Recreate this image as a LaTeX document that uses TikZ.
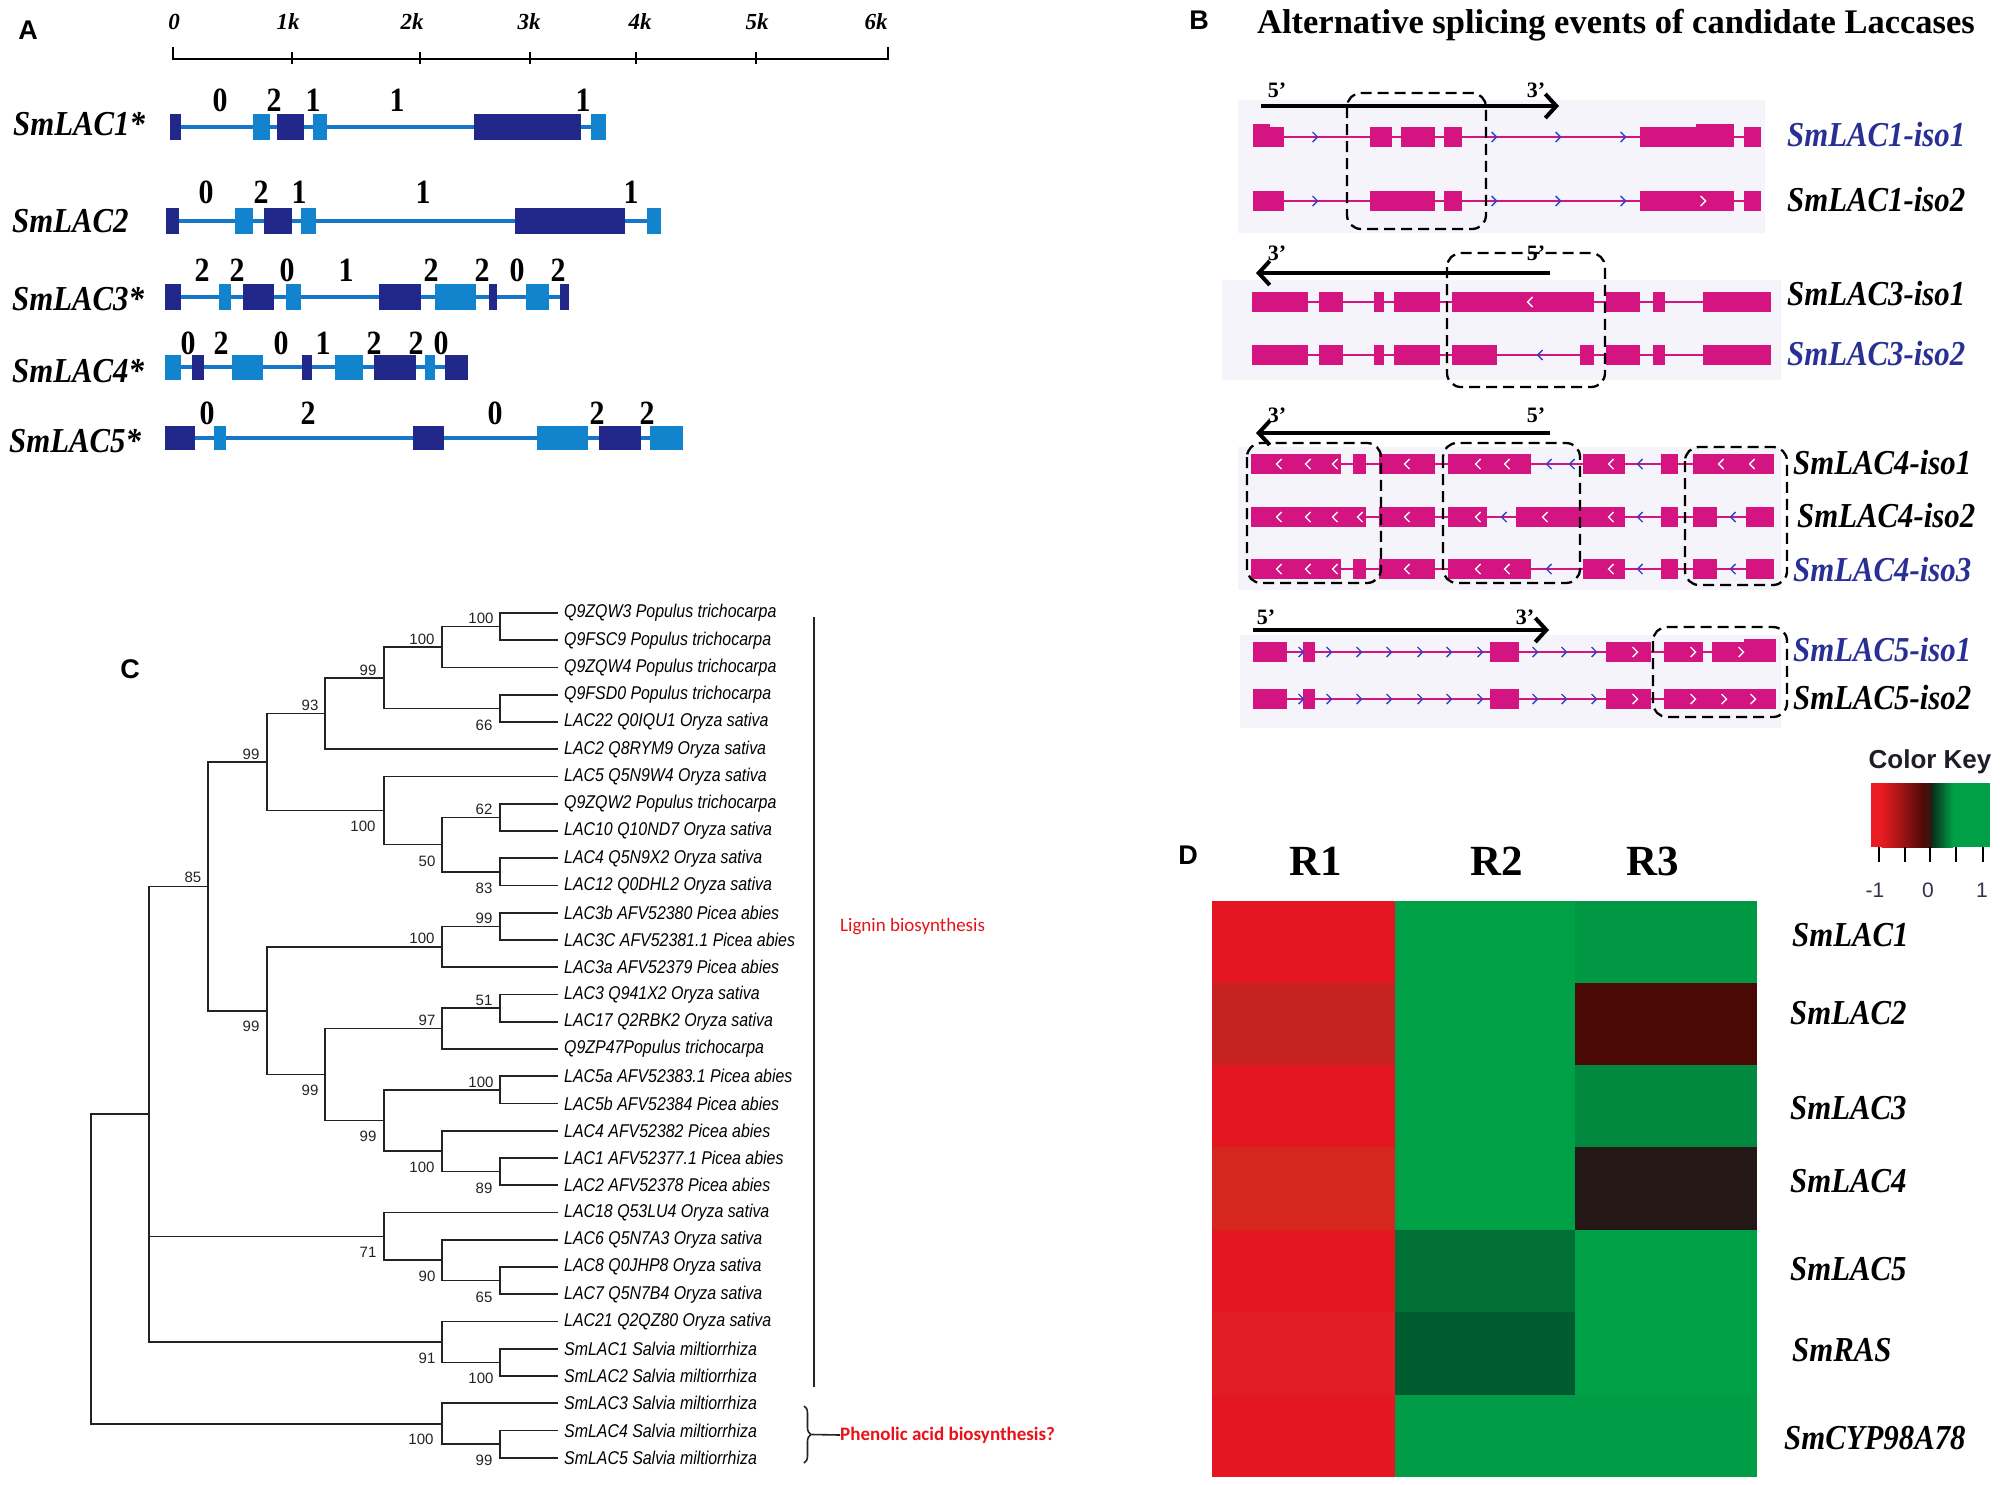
\documentclass[tikz,border=0pt]{standalone}
\usepackage{fontspec}
\setmainfont{Liberation Serif}
\newfontfamily\tnr{Liberation Serif}
\newfontfamily\tnrc[FakeStretch=0.88]{Liberation Serif}
\newfontfamily\arl{Liberation Sans}
\newfontfamily\arln[FakeStretch=0.86]{Liberation Sans}
\newfontfamily\carl{Carlito}
\usetikzlibrary{arrows.meta,decorations.pathreplacing}
\newcommand{\fs}[1]{\fontsize{#1}{#1}\selectfont}
\newcommand{\chr}[3]{\draw[#3,line width=1.4pt] ({#1-2.5},{#2-5}) -- ({#1+2.5},#2) -- ({#1-2.5},{#2+5});}
\newcommand{\chl}[3]{\draw[#3,line width=1.4pt] ({#1+2.5},{#2-5}) -- ({#1-2.5},#2) -- ({#1+2.5},{#2+5});}
\newcommand{\clade}[3]{\draw[tree] (#2) -| (#1) |- (#3);}
\newcommand{\cell}[7]{\definecolor{cc}{RGB}{#5,#6,#7}\fill[cc] (#1,#3) rectangle (#2,#4);}
\definecolor{dkb}{RGB}{33,40,138}
\definecolor{ltb}{RGB}{18,132,206}
\definecolor{lnb}{RGB}{22,118,200}
\definecolor{mag}{RGB}{212,20,128}
\definecolor{bgB}{RGB}{244,244,250}
\definecolor{navy}{RGB}{40,48,150}
\definecolor{chev}{RGB}{40,70,200}
\definecolor{redlab}{RGB}{232,18,24}
\definecolor{treec}{RGB}{35,35,35}
\definecolor{kred}{RGB}{232,28,34}
\definecolor{kmar}{RGB}{85,10,8}
\definecolor{kblk}{RGB}{38,26,22}
\definecolor{kdg}{RGB}{10,50,25}
\definecolor{kgrn}{RGB}{0,160,70}
\definecolor{cktxt}{RGB}{30,30,40}
\definecolor{cknum}{RGB}{50,50,80}
\tikzset{
  plabel/.style={font=\arl\bfseries\fs{27}, inner sep=0pt},
  ticklab/.style={font=\tnr\bfseries\itshape\fs{23}, inner sep=0pt},
  genelab/.style={font=\tnrc\bfseries\itshape\fs{35}, inner sep=0pt, anchor=west},
  phase/.style={font=\tnrc\bfseries\fs{34}, inner sep=0pt},
  intr/.style={lnb, line width=3.5pt},
  bintr/.style={mag, line width=2pt},
  isolab/.style={font=\tnrc\bfseries\itshape\fs{35}, inner sep=0pt, anchor=west},
  primelab/.style={font=\tnr\bfseries\fs{22}, inner sep=0pt},
  sarr/.style={line width=4pt, -{Straight Barb[length=11pt,width=24pt]}},
  dbox/.style={draw=black, line width=2.3pt, dash pattern=on 11pt off 6pt, rounded corners=14pt},
  tree/.style={treec, line width=1.6pt},
  leaf/.style={font=\arln\itshape\fs{18.5}, inner sep=0pt, anchor=west},
  boot/.style={font=\arl\fs{15}, inner sep=0pt, text=treec},
  hlab/.style={font=\tnrc\bfseries\itshape\fs{35}, inner sep=0pt, anchor=west},
  collab/.style={font=\tnr\bfseries\fs{43}, inner sep=0pt}
}
\begin{document}
\begin{tikzpicture}[x=1pt,y=-1pt]
\useasboundingbox (0,0) rectangle (2000,1484);
\fill[white] (0,0) rectangle (2000,1484);

%================ Panel A =================
\node[plabel] (labA) at (28,30) {A};
\draw[line width=2.2pt] (173,47) -- (173,59) -- (888,59) -- (888,47);
\foreach \x in {292,420,530,636,756} \draw[line width=2pt] (\x,52) -- (\x,64);
\foreach \x/\t [count=\i] in {174/0,288/1k,412/2k,529/3k,640/4k,757/5k,876/6k}
  \node[ticklab] (tk\i) at (\x,22) {\t};

\node[genelab] (gA1) at (13,124) {SmLAC1*};
\node[genelab] (gA2) at (12,221) {SmLAC2};
\node[genelab] (gA3) at (12,299) {SmLAC3*};
\node[genelab] (gA4) at (12,371) {SmLAC4*};
\node[genelab] (gA5) at (9,441) {SmLAC5*};

% row 1
\draw[intr] (170,127) -- (606,127);
\foreach \a/\b/\c in {170/181/dkb,253/270/ltb,277/304/dkb,313/327/ltb,474/581/dkb,591/606/ltb}
  \fill[\c] (\a,114) rectangle (\b,140);
\foreach \x/\t [count=\i] in {220/0,274/2,313/1,397/1,583/1}
  \node[phase] (p1n\i) at (\x,100) {\t};
% row 2
\draw[intr] (166,221) -- (661,221);
\foreach \a/\b/\c in {166/179/dkb,235/253/ltb,264/292/dkb,301/316/ltb,515/625/dkb,647/661/ltb}
  \fill[\c] (\a,208) rectangle (\b,234);
\foreach \x/\t [count=\i] in {206/0,261/2,299/1,423/1,631/1}
  \node[phase] (p2n\i) at (\x,192) {\t};
% row 3
\draw[intr] (165,297) -- (569,297);
\foreach \a/\b/\c in {165/181/dkb,219/231/ltb,243/274/dkb,286/301/ltb,379/421/dkb,435/476/ltb,489/497/dkb,526/549/ltb,560/569/dkb}
  \fill[\c] (\a,284) rectangle (\b,310);
\foreach \x/\t [count=\i] in {202/2,237/2,287/0,346/1,431/2,482/2,517/0,558/2}
  \node[phase] (p3n\i) at (\x,270) {\t};
% row 4
\draw[intr] (165,367) -- (468,367);
\foreach \a/\b/\c in {165/181/ltb,192/204/dkb,232/263/ltb,302/312/dkb,335/363/ltb,374/416/dkb,425/435/ltb,445/468/dkb}
  \fill[\c] (\a,355) rectangle (\b,380);
\foreach \x/\t [count=\i] in {188/0,221/2,281/0,323/1,374/2,416/2,441/0}
  \node[phase] (p4n\i) at (\x,343) {\t};
% row 5
\draw[intr] (165,438) -- (683,438);
\foreach \a/\b/\c in {165/195/dkb,214/226/ltb,413/444/dkb,537/588/ltb,599/641/dkb,650/683/ltb}
  \fill[\c] (\a,426) rectangle (\b,450);
\foreach \x/\t [count=\i] in {207/0,308/2,495/0,597/2,647/2}
  \node[phase] (p5n\i) at (\x,413) {\t};

%================ Panel B =================
\node[plabel] (labB) at (1199,20) {B};
\node[font=\tnr\bfseries\fs{34.5}, inner sep=0pt] (titB) at (1616,25) {Alternative splicing events of candidate Laccases};

% section 1
\fill[bgB] (1238,100) rectangle (1765,233);
\coordinate (s1a) at (1261,106); \coordinate (s1b) at (1559,106);
\draw[sarr] (s1a) -- (s1b);
\node[primelab] (s1p5) at (1277,90) {5’};
\node[primelab] (s1p3) at (1536,90) {3’};
\draw[bintr] (1253,137) -- (1761,137);
\foreach \a/\b in {1253/1284,1370/1392,1401/1435,1444/1462,1640/1734,1744/1761}
  \fill[mag] (\a,127) rectangle (\b,147);
\fill[mag] (1253,124) rectangle (1270,128);
\fill[mag] (1696,124) rectangle (1734,128);
\foreach \x in {1315,1494,1558,1623} \chr{\x}{137}{chev};
\draw[bintr] (1253,201) -- (1761,201);
\foreach \a/\b in {1253/1284,1370/1435,1444/1462,1640/1734,1744/1761}
  \fill[mag] (\a,191) rectangle (\b,211);
\foreach \x in {1315,1494,1558,1623} \chr{\x}{201}{chev};
\chr{1703}{201}{white}
\draw[dbox] (1347,93) rectangle (1486,229);
\node[isolab, text=navy] (i11) at (1787,135) {SmLAC1-iso1};
\node[isolab] (i12) at (1787,200) {SmLAC1-iso2};

% section 2
\fill[bgB] (1222,280) rectangle (1781,380);
\coordinate (s2a) at (1550,273); \coordinate (s2b) at (1256,273);
\draw[sarr] (s2a) -- (s2b);
\node[primelab] (s2p3) at (1277,253) {3’};
\node[primelab] (s2p5) at (1536,253) {5’};
\draw[bintr] (1252,302) -- (1771,302);
\foreach \a/\b in {1252/1308,1319/1343,1374/1384,1394/1440,1452/1594,1606/1640,1653/1665,1703/1771}
  \fill[mag] (\a,292) rectangle (\b,312);
\chl{1530}{302}{white}
\draw[bintr] (1252,355) -- (1771,355);
\foreach \a/\b in {1252/1308,1319/1343,1374/1384,1394/1440,1452/1497,1580/1594,1606/1640,1653/1665,1703/1771}
  \fill[mag] (\a,345) rectangle (\b,365);
\chl{1540}{355}{chev}
\draw[dbox] (1447,253) rectangle (1605,387);
\node[isolab] (i31) at (1787,294) {SmLAC3-iso1};
\node[isolab, text=navy] (i32) at (1787,354) {SmLAC3-iso2};

% section 3
\fill[bgB] (1238,447) rectangle (1781,590);
\coordinate (s3a) at (1550,433); \coordinate (s3b) at (1256,433);
\draw[sarr] (s3a) -- (s3b);
\node[primelab] (s3p3) at (1277,415) {3’};
\node[primelab] (s3p5) at (1536,415) {5’};
% iso1
\draw[bintr] (1251,464) -- (1774,464);
\foreach \a/\b in {1251/1341,1353/1366,1379/1435,1448/1531,1583/1625,1661/1678,1693/1774}
  \fill[mag] (\a,454) rectangle (\b,474);
\foreach \x in {1279,1308,1335,1407,1478,1507,1611,1721,1752} \chl{\x}{464}{white};
\foreach \x in {1549,1572,1640} \chl{\x}{464}{chev};
% iso2
\draw[bintr] (1251,517) -- (1774,517);
\foreach \a/\b in {1251/1366,1379/1435,1448/1487,1516/1625,1661/1678,1693/1717,1746/1774}
  \fill[mag] (\a,507) rectangle (\b,527);
\foreach \x in {1279,1308,1335,1360,1407,1478,1545,1611} \chl{\x}{517}{white};
\foreach \x in {1504,1640,1733} \chl{\x}{517}{chev};
% iso3
\draw[bintr] (1251,569) -- (1774,569);
\foreach \a/\b in {1251/1341,1353/1366,1379/1435,1448/1531,1583/1625,1661/1678,1693/1717,1746/1774}
  \fill[mag] (\a,559) rectangle (\b,579);
\foreach \x in {1279,1308,1335,1407,1478,1507,1611} \chl{\x}{569}{white};
\foreach \x in {1549,1640,1733} \chl{\x}{569}{chev};
\draw[dbox] (1247,443) rectangle (1381,583);
\draw[dbox] (1443,443) rectangle (1580,583);
\draw[dbox] (1685,447) rectangle (1787,585);
\node[isolab] (i41) at (1793,463) {SmLAC4-iso1};
\node[isolab] (i42) at (1797,516) {SmLAC4-iso2};
\node[isolab, text=navy] (i43) at (1793,570) {SmLAC4-iso3};

% section 4
\fill[bgB] (1240,635) rectangle (1781,728);
\coordinate (s4a) at (1253,630); \coordinate (s4b) at (1549,630);
\draw[sarr] (s4a) -- (s4b);
\node[primelab] (s4p5) at (1266,617) {5’};
\node[primelab] (s4p3) at (1525,617) {3’};
\draw[bintr] (1253,652) -- (1776,652);
\foreach \a/\b in {1253/1287,1303/1315,1490/1519,1606/1651,1664/1703,1712/1776}
  \fill[mag] (\a,642) rectangle (\b,662);
\fill[mag] (1744,639) rectangle (1776,643);
\foreach \x in {1635,1693,1741} \chr{\x}{652}{white};
\foreach \x in {1301,1329,1359,1389,1420,1449,1480,1535,1564,1594} \chr{\x}{652}{chev};
\draw[bintr] (1253,699) -- (1776,699);
\foreach \a/\b in {1253/1287,1303/1315,1490/1519,1606/1651,1664/1776}
  \fill[mag] (\a,689) rectangle (\b,709);
\foreach \x in {1635,1693,1724,1753} \chr{\x}{699}{white};
\foreach \x in {1301,1329,1359,1389,1420,1449,1480,1535,1564,1594} \chr{\x}{699}{chev};
\draw[dbox] (1653,627) rectangle (1787,717);
\node[isolab, text=navy] (i51) at (1793,650) {SmLAC5-iso1};
\node[isolab] (i52) at (1793,698) {SmLAC5-iso2};

%================ Panel C =================
\node[plabel] (labC) at (130,669) {C};
\foreach \i in {1,...,32} \coordinate (l\i) at (558,{613+(\i-1)*27.25});
\foreach \t [count=\i] in {Q9ZQW3 Populus trichocarpa,Q9FSC9 Populus trichocarpa,Q9ZQW4 Populus trichocarpa,Q9FSD0 Populus trichocarpa,LAC22 Q0IQU1 Oryza sativa,LAC2 Q8RYM9 Oryza sativa,LAC5 Q5N9W4 Oryza sativa,Q9ZQW2 Populus trichocarpa,LAC10 Q10ND7 Oryza sativa,LAC4 Q5N9X2 Oryza sativa,LAC12 Q0DHL2 Oryza sativa,LAC3b AFV52380 Picea abies,LAC3C AFV52381.1 Picea abies,LAC3a AFV52379 Picea abies,LAC3 Q941X2 Oryza sativa,LAC17 Q2RBK2 Oryza sativa,Q9ZP47Populus trichocarpa,LAC5a AFV52383.1 Picea abies,LAC5b AFV52384 Picea abies,LAC4 AFV52382 Picea abies,LAC1 AFV52377.1 Picea abies,LAC2 AFV52378 Picea abies,LAC18 Q53LU4 Oryza sativa,LAC6 Q5N7A3 Oryza sativa,LAC8 Q0JHP8 Oryza sativa,LAC7 Q5N7B4 Oryza sativa,LAC21 Q2QZ80 Oryza sativa,SmLAC1 Salvia miltiorrhiza,SmLAC2 Salvia miltiorrhiza,SmLAC3 Salvia miltiorrhiza,SmLAC4 Salvia miltiorrhiza,SmLAC5 Salvia miltiorrhiza}
  \node[leaf] (leaf\i) at (564,{613+(\i-1)*27.25}) {\t};

\coordinate (n12) at (500,626.6);
\coordinate (n123) at (442,647);
\coordinate (n45) at (500,708.4);
\coordinate (nA) at (384,677.7);
\coordinate (nB) at (325,713.5);
\coordinate (n89) at (500,817.4);
\coordinate (n1011) at (500,871.9);
\coordinate (n50) at (442,844.6);
\coordinate (nC) at (384,810.6);
\coordinate (nD) at (267,762);
\coordinate (n1213) at (500,926.4);
\coordinate (n14c) at (442,946.8);
\coordinate (n1516) at (500,1008.1);
\coordinate (n97) at (442,1028.6);
\coordinate (n1819) at (500,1089.9);
\coordinate (n2122) at (500,1171.6);
\coordinate (n100b) at (442,1151.2);
\coordinate (n99c) at (384,1120.5);
\coordinate (n99d) at (325,1074.6);
\coordinate (nE) at (267,1010.7);
\coordinate (nF) at (208,886.4);
\coordinate (n2526) at (500,1280.6);
\coordinate (n90) at (442,1260.2);
\coordinate (n71) at (384,1236.3);
\coordinate (n2829) at (500,1362.4);
\coordinate (n91) at (442,1342);
\coordinate (nG) at (149,1114.2);
\coordinate (n3132) at (500,1444.1);
\coordinate (nH) at (442,1423.7);
\coordinate (root) at (91,1269);

\clade{n12}{l1}{l2}
\clade{n123}{n12}{l3}
\clade{n45}{l4}{l5}
\clade{nA}{n123}{n45}
\clade{nB}{nA}{l6}
\clade{n89}{l8}{l9}
\clade{n1011}{l10}{l11}
\clade{n50}{n89}{n1011}
\clade{nC}{l7}{n50}
\clade{nD}{nB}{nC}
\clade{n1213}{l12}{l13}
\clade{n14c}{n1213}{l14}
\clade{n1516}{l15}{l16}
\clade{n97}{n1516}{l17}
\clade{n1819}{l18}{l19}
\clade{n2122}{l21}{l22}
\clade{n100b}{l20}{n2122}
\clade{n99c}{n1819}{n100b}
\clade{n99d}{n97}{n99c}
\clade{nE}{n14c}{n99d}
\clade{nF}{nD}{nE}
\clade{n2526}{l25}{l26}
\clade{n90}{l24}{n2526}
\clade{n71}{l23}{n90}
\clade{n2829}{l28}{l29}
\clade{n91}{l27}{n2829}
\clade{nG}{nF}{n91}
\draw[tree] (nG |- n71) -- (n71);
\clade{n3132}{l31}{l32}
\clade{nH}{l30}{n3132}
\draw[tree] (nG) -| (root |- nG) |- (nH);

\foreach \x/\y/\t [count=\i] in {481/618/100,422/639/100,368/670/99,310/705/93,484/725/66,251/754/99,484/809/62,363/826/100,427/861/50,484/888/83,193/877/85,484/918/99,422/938/100,484/1000/51,427/1020/97,251/1026/99,481/1082/100,310/1090/99,368/1136/99,422/1167/100,484/1188/89,368/1252/71,427/1276/90,484/1297/65,427/1358/91,481/1378/100,421/1439/100,484/1460/99}
  \node[boot] (bs\i) at (\x,\y) {\t};

\coordinate (lgTop) at (814,617); \coordinate (lgBot) at (814,1387);
\draw[tree] (lgTop) -- (lgBot);
\node[font=\carl\fs{19}, text=redlab, inner sep=0pt, anchor=west] (lignin) at (840,927) {Lignin biosynthesis};
\coordinate (brT) at (804,1406); \coordinate (brB) at (804,1463);
\draw[tree, decorate, decoration={brace, amplitude=7pt}] (brT) -- (brB);
\node[font=\carl\bfseries\fs{19}, text=redlab, inner sep=0pt, anchor=west] (phen) at (840,1435) {Phenolic acid biosynthesis?};
\coordinate (brTip) at (812,1434.5);
\draw[tree] (brTip) -- (phen.west);

%================ Panel D =================
\node[plabel] (labD) at (1188,855) {D};
\node[collab] (R1) at (1316,861) {R1};
\node[collab] (R2) at (1497,861) {R2};
\node[collab] (R3) at (1653,861) {R3};
\cell{1212}{1395}{901}{983}{228}{22}{34}
\cell{1395}{1575}{901}{983}{0}{160}{70}
\cell{1575}{1757}{901}{983}{0}{152}{66}
\cell{1212}{1395}{983}{1065}{198}{34}{34}
\cell{1395}{1575}{983}{1065}{0}{160}{70}
\cell{1575}{1757}{983}{1065}{76}{10}{6}
\cell{1212}{1395}{1065}{1147}{228}{22}{34}
\cell{1395}{1575}{1065}{1147}{0}{160}{70}
\cell{1575}{1757}{1065}{1147}{0}{136}{62}
\cell{1212}{1395}{1147}{1230}{212}{40}{30}
\cell{1395}{1575}{1147}{1230}{0}{160}{70}
\cell{1575}{1757}{1147}{1230}{35}{24}{22}
\cell{1212}{1395}{1230}{1312}{228}{22}{34}
\cell{1395}{1575}{1230}{1312}{0}{112}{52}
\cell{1575}{1757}{1230}{1312}{0}{160}{70}
\cell{1212}{1395}{1312}{1395}{224}{30}{36}
\cell{1395}{1575}{1312}{1395}{0}{92}{46}
\cell{1575}{1757}{1312}{1395}{0}{160}{70}
\cell{1212}{1395}{1395}{1477}{228}{22}{34}
\cell{1395}{1575}{1395}{1477}{0}{156}{70}
\cell{1575}{1757}{1395}{1477}{0}{156}{70}

\node[hlab] (h1) at (1792,935) {SmLAC1};
\node[hlab] (h2) at (1790,1013) {SmLAC2};
\node[hlab] (h3) at (1790,1108) {SmLAC3};
\node[hlab] (h4) at (1790,1181) {SmLAC4};
\node[hlab] (h5) at (1790,1269) {SmLAC5};
\node[hlab] (h6) at (1792,1350) {SmRAS};
\node[hlab] (h7) at (1784,1438) {SmCYP98A78};

% color key
\node[font=\arl\bfseries\fs{26}, text=cktxt, inner sep=0pt] (ckt) at (1930,762) {Color Key};
\fill[kred] (1871,783) rectangle (1882,847);
\shade[left color=kred, right color=kmar] (1881.5,783) rectangle (1922,847);
\shade[left color=kmar, right color=kblk] (1921.5,783) rectangle (1933,847);
\shade[left color=kdg, right color=kgrn] (1932.5,783) rectangle (1953,847);
\fill[kgrn] (1952.5,783) rectangle (1990,847);
\foreach \x in {1879,1905,1930,1956,1983} \draw[line width=1.6pt] (\x,847) -- (\x,862);
\foreach \x/\t [count=\i] in {1875/-1,1928/0,1982/1}
  \node[font=\arl\fs{21}, text=cknum, inner sep=0pt] (ck\i) at (\x,890) {\t};
\end{tikzpicture}
\end{document}
